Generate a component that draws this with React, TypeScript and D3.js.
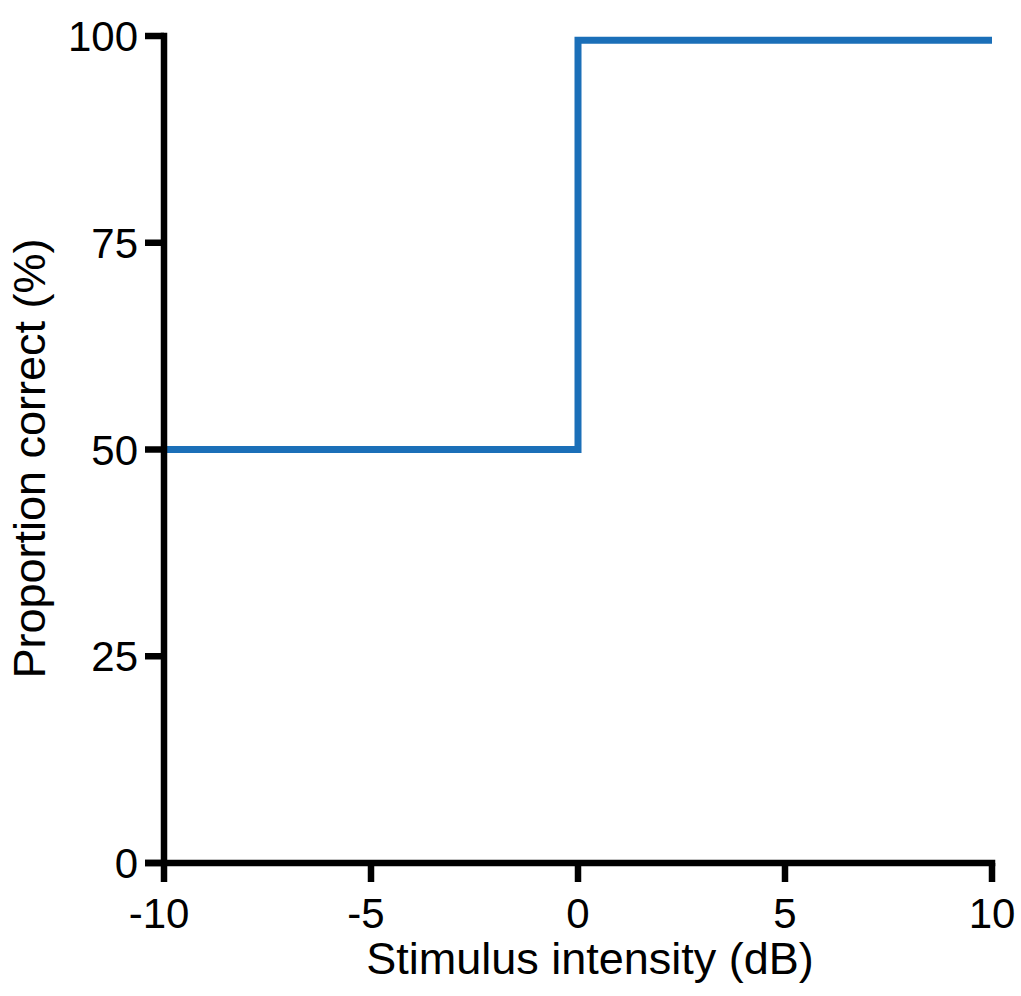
import React from "react";
import * as d3 from "d3";

const stimulus: number[] = [-10, 0, 10];
const proportion: number[] = [50, 99.5, 99.5];
const xTicks: number[] = [-10, -5, 0, 5, 10];
const yTicks: number[] = [0, 25, 50, 75, 100];
const xTitle = "Stimulus intensity (dB)";
const yTitle = "Proportion correct (%)";

export default function App() {
  const W = 1021, H = 996;
  const x = d3.scaleLinear().domain([-10, 10]).range([164, 992]);
  const y = d3.scaleLinear().domain([0, 100]).range([863, 36]);
  const line = d3
    .line<number>()
    .x((_, i) => x(stimulus[i]))
    .y((d) => y(d))
    .curve(d3.curveStepAfter);
  const font = "'Liberation Sans', Arial, sans-serif";
  const axisW = 6.5;
  const tickLen = 19;
  return (
    <svg
      width={W}
      height={H}
      style={{ position: "absolute", left: 0, top: 0, background: "#fff" }}
      fontFamily={font}
    >
      <path
        d={line(proportion) || ""}
        fill="none"
        stroke="#1b6fb8"
        strokeWidth={7}
        strokeLinejoin="miter"
      />
      {/* y axis */}
      <line x1={x(-10)} x2={x(-10)} y1={y(100) - axisW / 2} y2={y(0)} stroke="#000" strokeWidth={axisW} />
      {yTicks.map((t) => (
        <g key={"y" + t}>
          <line x1={x(-10) - tickLen} x2={x(-10)} y1={y(t)} y2={y(t)} stroke="#000" strokeWidth={axisW} />
          <text x={x(-10) - tickLen - 7} y={y(t) + 15} textAnchor="end" fontSize={42}>
            {t}
          </text>
        </g>
      ))}
      {/* x axis */}
      <line x1={x(-10) - tickLen} x2={x(10) + axisW / 2} y1={y(0)} y2={y(0)} stroke="#000" strokeWidth={axisW} />
      {xTicks.map((t) => (
        <g key={"x" + t}>
          <line x1={x(t)} x2={x(t)} y1={y(0)} y2={y(0) + tickLen} stroke="#000" strokeWidth={axisW} />
          <text x={x(t) - (t < 0 ? 5 : 0)} y={928} textAnchor="middle" fontSize={42}>
            {t}
          </text>
        </g>
      ))}
      <text x={590} y={974} textAnchor="middle" fontSize={45}>
        {xTitle}
      </text>
      <text
        transform={`translate(45,458.5) rotate(-90)`}
        textAnchor="middle"
        fontSize={45}
      >
        {yTitle}
      </text>
    </svg>
  );
}
